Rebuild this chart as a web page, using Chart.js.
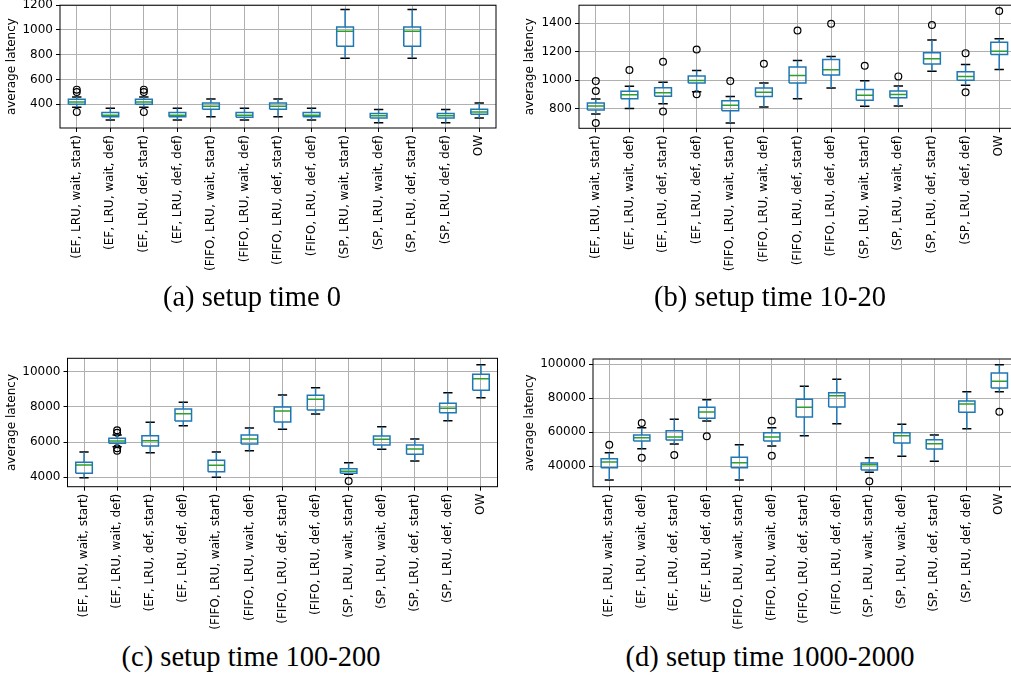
<!DOCTYPE html>
<html>
<head>
<meta charset="utf-8">
<script src="https://cdn.jsdelivr.net/npm/chart.js@4.4.1/dist/chart.umd.min.js"></script>
<style>
  body { margin: 0; width: 1011px; height: 678px; overflow: hidden; background: #fff; position: relative; }
  canvas { position: absolute; }
  .cap { position: absolute; font-family: "Liberation Serif", serif; font-size: 28.5px; line-height: 1; white-space: nowrap; transform: translateX(-50%); color: #000; }
</style>
</head>
<body>
<canvas id="chartA" width="505" height="285" style="left:0;top:0"></canvas>
<canvas id="chartB" width="505" height="285" style="left:518px;top:0"></canvas>
<canvas id="chartC" width="505" height="290" style="left:0;top:350px"></canvas>
<canvas id="chartD" width="505" height="290" style="left:518px;top:350px"></canvas>
<div class="cap" style="left:252px;top:283px">(a) setup time 0</div>
<div class="cap" style="left:770px;top:283px">(b) setup time 10-20</div>
<div class="cap" style="left:251px;top:643px">(c) setup time 100-200</div>
<div class="cap" style="left:770px;top:643px">(d) setup time 1000-2000</div>
<script>
const labels = ['(EF, LRU, wait, start)', '(EF, LRU, wait, def)', '(EF, LRU, def, start)', '(EF, LRU, def, def)',
  '(FIFO, LRU, wait, start)', '(FIFO, LRU, wait, def)', '(FIFO, LRU, def, start)', '(FIFO, LRU, def, def)',
  '(SP, LRU, wait, start)', '(SP, LRU, wait, def)', '(SP, LRU, def, start)', '(SP, LRU, def, def)', 'OW'];

// (a) setup time 0
const aTicks = [400, 600, 800, 1000, 1200];
const aLow = [375, 272, 375, 272, 298, 272, 298, 272, 771, 250, 771, 250, 288];
const aQ1 = [400, 298, 400, 298, 360, 295, 360, 298, 869, 288, 869, 288, 320];
const aMed = [418, 312, 418, 312, 384, 312, 384, 312, 989, 307, 989, 307, 338];
const aQ3 = [440, 333, 440, 333, 410, 333, 410, 333, 1024, 325, 1024, 325, 360];
const aHigh = [458, 368, 458, 368, 443, 368, 443, 368, 1165, 357, 1165, 357, 410];
const aOut = [[498, 518, 338], [], [498, 518, 338], [], [], [], [], [], [], [], [], [], []];

// (b) setup time 10-20
const bTicks = [800, 1000, 1200, 1400];
const bLow = [762, 800, 834, 919, 699, 811, 870, 944, 816, 818, 1062, 964, 1075];
const bQ1 = [791, 870, 887, 979, 785, 885, 979, 1035, 858, 876, 1113, 999, 1180];
const bMed = [818, 897, 912, 997, 823, 914, 1033, 1073, 894, 899, 1149, 1026, 1203];
const bQ3 = [840, 921, 946, 1028, 856, 944, 1091, 1145, 934, 923, 1192, 1058, 1266];
const bHigh = [867, 957, 984, 1068, 885, 979, 1138, 1165, 995, 959, 1281, 1109, 1290];
const bOut = [[993, 923, 699], [1071], [1129, 780], [1214, 901], [993], [1115], [1348], [1395], [1100], [1026], [1386], [1189, 914], [1484]];

// (c) setup time 100-200
const cTicks = [4000, 6000, 8000, 10000];
const cLow = [3977, 5741, 5398, 6932, 4000, 5511, 6726, 7596, 4170, 5591, 4926, 7215, 8522];
const cQ1 = [4227, 5932, 5778, 7198, 4318, 5892, 7141, 7823, 4227, 5835, 5306, 7670, 8943];
const cMed = [4699, 6062, 6079, 7613, 4682, 6176, 7766, 8430, 4341, 6159, 5608, 7920, 9602];
const cQ3 = [4852, 6216, 6363, 7880, 4966, 6403, 7993, 8658, 4489, 6346, 5835, 8204, 9851];
const cHigh = [5437, 6403, 7124, 8260, 5437, 6801, 8675, 9090, 4830, 6875, 6176, 8806, 10398];
const cOut = [[], [6670, 6534, 5511, 5647], [], [], [], [], [], [], [3790], [], [], [], []];

// (d) setup time 1000-2000
const dTicks = [40000, 60000, 80000, 100000];
const dLow = [31740, 50200, 52980, 66550, 31740, 51800, 57880, 64960, 36280, 45720, 42770, 62000, 83830];
const dQ1 = [39000, 54750, 55340, 68140, 39000, 54750, 68900, 74800, 37640, 53570, 50030, 71680, 86020];
const dMed = [42360, 56700, 57100, 71860, 41950, 57110, 74630, 81470, 40770, 57880, 53160, 76580, 89970];
const dQ3 = [44300, 58290, 60830, 74630, 45100, 59650, 79350, 83240, 41770, 59650, 55520, 78350, 94870];
const dHigh = [47850, 62600, 67550, 79120, 52570, 62600, 87010, 91150, 44900, 64600, 58290, 83830, 99760];
const dOut = [[52570], [65370, 44900], [46490], [57520], [], [66730, 46080], [], [], [30970], [], [], [], [72030]];

const frame = {
    id: 'frame',
    afterDatasetsDraw(chart) {
        const a = chart.chartArea;
        const c = chart.ctx;
        c.save();
        c.strokeStyle = '#000';
        c.lineWidth = 1;
        c.strokeRect(a.left, a.top, a.right - a.left, a.bottom - a.top);
        c.restore();
    }
};

function boxDatasets(lo, q1, med, q3, hi, out) {
    const box = [], whisk = [], caps = [], meds = [], pts = [];
    labels.forEach((_, i) => {
        box.push({x: i - 0.25, y: q1[i]}, {x: i + 0.25, y: q1[i]}, {x: i + 0.25, y: q3[i]},
                 {x: i - 0.25, y: q3[i]}, {x: i - 0.25, y: q1[i]}, {x: i, y: null});
        whisk.push({x: i, y: lo[i]}, {x: i, y: q1[i]}, {x: i, y: null},
                   {x: i, y: q3[i]}, {x: i, y: hi[i]}, {x: i, y: null});
        caps.push({x: i - 0.14, y: lo[i]}, {x: i + 0.14, y: lo[i]}, {x: i, y: null},
                  {x: i - 0.14, y: hi[i]}, {x: i + 0.14, y: hi[i]}, {x: i, y: null});
        meds.push({x: i - 0.25, y: med[i]}, {x: i + 0.25, y: med[i]}, {x: i, y: null});
        out[i].forEach(v => pts.push({x: i, y: v}));
    });
    const line = (data, color) => ({
        type: 'line', data: data, borderColor: color, borderWidth: 1.5,
        pointRadius: 0, spanGaps: false, tension: 0, fill: false
    });
    return [
        line(whisk, '#1f77b4'),
        line(box, '#1f77b4'),
        line(caps, '#000'),
        line(meds, '#2ca02c'),
        {
            type: 'scatter', data: pts, showLine: false, pointRadius: 3.4,
            pointBackgroundColor: 'rgba(0,0,0,0)', pointBorderColor: '#000', pointBorderWidth: 1.2
        }
    ];
}

function drawPanel(id, sets, yTicks, yMin, yMax, yWidth, xHeight, padTop, padRight) {
    new Chart(document.getElementById(id), {
        type: 'line',
        data: { datasets: sets },
        plugins: [frame],
        options: {
            responsive: false,
            animation: false,
            layout: { padding: { top: padTop, right: padRight, left: 0, bottom: 0 } },
            plugins: { legend: { display: false }, tooltip: { enabled: false } },
            scales: {
                x: {
                    type: 'linear',
                    min: -0.5,
                    max: 12.5,
                    border: { display: false },
                    grid: { color: '#b0b0b0', lineWidth: 1, tickColor: '#000', tickLength: 4 },
                    ticks: {
                        autoSkip: false, minRotation: 90, maxRotation: 90, padding: 3,
                        color: '#000', font: { family: 'DejaVu Sans', size: 12 },
                        callback: v => labels[v]
                    },
                    afterBuildTicks: s => { s.ticks = labels.map((_, i) => ({ value: i })); },
                    afterFit: s => { s.height = xHeight; s.paddingLeft = 0; s.paddingRight = 0; }
                },
                y: {
                    min: yMin,
                    max: yMax,
                    border: { display: false },
                    grid: { color: '#b0b0b0', lineWidth: 1, tickColor: '#000', tickLength: 4 },
                    ticks: {
                        padding: 3, color: '#000', font: { family: 'DejaVu Sans', size: 12 },
                        callback: v => String(v)
                    },
                    afterBuildTicks: s => { s.ticks = yTicks.map(v => ({ value: v })); },
                    title: {
                        display: true, text: 'average latency', color: '#000',
                        font: { family: 'DejaVu Sans', size: 12 }, padding: { top: 5, bottom: 0 }
                    },
                    afterFit: s => { s.width = yWidth; s.paddingTop = 0; s.paddingBottom = 0; }
                }
            }
        }
    });
}

drawPanel('chartA', boxDatasets(aLow, aQ1, aMed, aQ3, aHigh, aOut), aTicks, 208, 1200, 60, 157, 4, 9);
drawPanel('chartB', boxDatasets(bLow, bQ1, bMed, bQ3, bHigh, bOut), bTicks, 662, 1525, 61, 156.7, 0.5, 7);
drawPanel('chartC', boxDatasets(cLow, cQ1, cMed, cQ3, cHigh, cOut), cTicks, 3466, 10761, 67.5, 153.3, 8.3, 7.5);
drawPanel('chartD', boxDatasets(dLow, dQ1, dMed, dQ3, dHigh, dOut), dTicks, 27790, 103130, 75, 153.3, 9, 7.4);
</script>
</body>
</html>
